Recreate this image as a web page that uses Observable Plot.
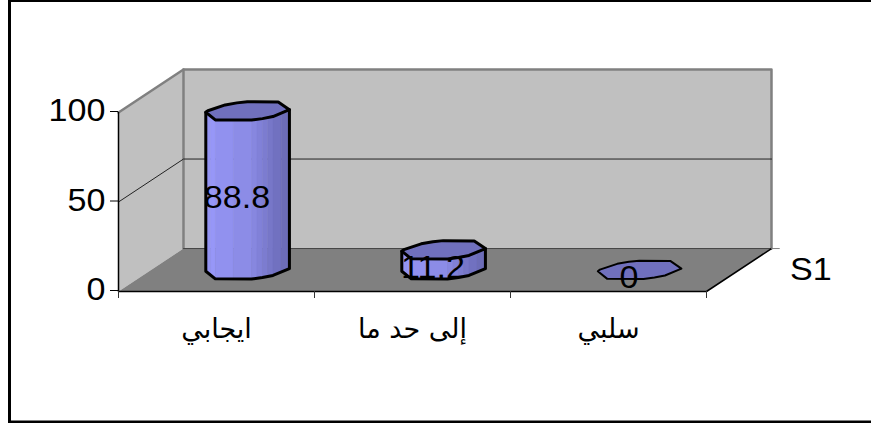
<!DOCTYPE html>
<html>
<head>
<meta charset="utf-8">
<script src="https://cdn.jsdelivr.net/npm/d3@7"></script>
<script src="https://cdn.jsdelivr.net/npm/@observablehq/plot@0.6"></script>
<style>
  html, body { margin: 0; padding: 0; background: #fff; overflow: hidden; }
  svg { display: block; }
</style>
</head>
<body>
<div id="chart"></div>
<script>
// Survey results
const categories = ["ايجابي", "إلى حد ما", "سلبي"];
const values = [88.8, 11.2, 0];
const seriesName = "S1";
const valueTicks = [0, 50, 100];
const gridValues = [50];

// Oblique projection: one unit of depth shifts a point right (category units) and up (value units)
const depthX = 0.3316;
const depthY = 24;
const project = (cat, value, depth = 0) => ({x: cat + depth * depthX, y: value + depth * depthY});

// Facet angles (degrees) of the low-resolution cylinder cross-section
const facetAngles = [8, 65, 111, 125, 142, 178, 187, 242, 296, 311, 327];
const frontAngles = [187, 242, 296, 311, 327, 368];
const radiusCat = 0.205;
const radiusDepth = 0.233;
const barCenter = 0.4925;

const rim = (i, value, deg) => {
  const t = deg * Math.PI / 180;
  return project(i + barCenter + radiusCat * Math.cos(t), value, 0.5 + radiusDepth * Math.sin(t));
};
const mix = (a, b, f) => ({x: a.x + (b.x - a.x) * f, y: a.y + (b.y - a.y) * f});

const polygon = (corners) => [...corners, corners[0]];
const leftWall = polygon([project(0, 0), project(0, 100), project(0, 100, 1), project(0, 0, 1)]);
const backWall = polygon([project(0, 0, 1), project(0, 100, 1), project(3, 100, 1), project(3, 0, 1)]);
const floor = polygon([project(0, 0), project(3, 0), project(3, 0, 1), project(0, 0, 1)]);

const shade = d3.interpolateRgb("#9c9cff", "#6c6cb8");
const barMarks = [];
const labelRows = [];

values.forEach((v, i) => {
  const top = polygon(facetAngles.map((a) => rim(i, v, a)));
  if (v > 0) {
    // Vertical shaded strips across the visible front of the cylinder
    const steps = frontAngles.length - 1;
    const strips = [];
    for (let s = 0; s < steps; s++) {
      const t0 = rim(i, v, frontAngles[s]), t1 = rim(i, v, frontAngles[s + 1]);
      const b0 = rim(i, 0, frontAngles[s]), b1 = rim(i, 0, frontAngles[s + 1]);
      for (let k = 0; k < 2; k++) {
        strips.push(polygon([mix(t0, t1, k / 2), mix(t0, t1, (k + 1) / 2), mix(b0, b1, (k + 1) / 2), mix(b0, b1, k / 2)]));
      }
    }
    strips.forEach((strip, n) => {
      const color = n === 0 ? "#9494f2" : shade(n / (strips.length - 1));
      barMarks.push(Plot.line(strip, {x: "x", y: "y", fill: color, stroke: color, strokeWidth: 0.5, curve: "linear"}));
    });
    // Silhouette: both sides and the lower rim
    const outline = [
      rim(i, v, frontAngles[0]),
      ...frontAngles.map((a) => rim(i, 0, a)),
      rim(i, v, frontAngles[frontAngles.length - 1])
    ];
    barMarks.push(Plot.line(outline, {x: "x", y: "y", stroke: "#000", strokeWidth: 3, strokeLinejoin: "round"}));
  }
  barMarks.push(Plot.line(top, {x: "x", y: "y", fill: "#7070bd", stroke: "#000", strokeWidth: v > 0 ? 3 : 2, strokeLinejoin: "round"}));
  labelRows.push({...project(i + 0.5, v / 2, 0.5), label: String(v)});
});

const wallEdges = [
  [project(0, 100), project(0, 100, 1), project(3, 100, 1), project(3, 0, 1)],
  [project(0, 100, 1), project(0, 0, 1)]
];

const plot = Plot.plot({
  width: 871,
  height: 423,
  marginLeft: 118,
  marginRight: 165,
  marginTop: 112,
  marginBottom: 132,
  x: {type: "linear", domain: [0, 3]},
  y: {domain: [0, 100]},
  style: {background: "#fff", fontFamily: "'Liberation Sans', Arial, sans-serif", overflow: "hidden"},
  marks: [
    // Outer chart border; its right side lies past the edge of the page
    Plot.frame({stroke: "#000", strokeWidth: 3, insetLeft: -109, insetTop: -112, insetRight: -169, insetBottom: -130.5}),
    // Walls and floor
    Plot.line(leftWall, {x: "x", y: "y", fill: "#c0c0c0"}),
    Plot.line(backWall, {x: "x", y: "y", fill: "#c0c0c0"}),
    Plot.line(floor, {x: "x", y: "y", fill: "#808080"}),
    ...wallEdges.map((e) => Plot.line(e, {x: "x", y: "y", stroke: "#808080", strokeWidth: 2.5})),
    // Gridlines run along the side wall and across the back wall
    ...gridValues.map((g) => Plot.line([project(0, g), project(0, g, 1), project(3, g, 1)], {x: "x", y: "y", stroke: "#222", strokeWidth: 1})),
    Plot.line([project(0, 0, 1), project(3, 0, 1)], {x: "x", y: "y", stroke: "#444", strokeWidth: 1}),
    // Front edges of the floor and the value axis line
    Plot.line([project(0, 100), project(0, 0), project(3, 0), project(3, 0, 1)], {x: "x", y: "y", stroke: "#000", strokeWidth: 1.5}),
    // Axes
    Plot.axisY({ticks: valueTicks, tickSize: 8, tickPadding: 5, fontSize: 31, label: null, stroke: "#000", color: "#000", dy: -1}),
    Plot.axisX({ticks: [0, 1, 2, 3], tickSize: 7, tickFormat: () => "", label: null, stroke: "#333"}),
    Plot.line([project(3, 0, 1), project(3.04, 0, 1)], {x: "x", y: "y", stroke: "#808080", strokeWidth: 1}),
    Plot.text(categories, {x: (d, i) => i + 0.5, y: () => 0, text: (d) => d, dy: 38, fontSize: 27, fontFamily: "'DejaVu Sans', sans-serif", fill: "#000"}),
    Plot.text([seriesName], {x: () => project(3, 0, 0.5).x, y: () => project(3, 0, 0.5).y, text: (d) => d, dx: 51, fontSize: 31, textAnchor: "start", fill: "#000"}),
    // Cylinders and their value labels
    ...barMarks,
    Plot.text(labelRows, {x: "x", y: "y", text: "label", dx: -12, dy: 8, fontSize: 31, fill: "#000"})
  ]
});

document.getElementById("chart").append(plot);

// The type in this chart is set wide: stretch the Latin labels horizontally
plot.querySelectorAll("text").forEach((t) => {
  if (/[\u0600-\u06FF]/.test(t.textContent) || !t.textContent) return;
  t.setAttribute("textLength", t.getComputedTextLength() * 1.1);
  t.setAttribute("lengthAdjust", "spacingAndGlyphs");
});
</script>
</body>
</html>
